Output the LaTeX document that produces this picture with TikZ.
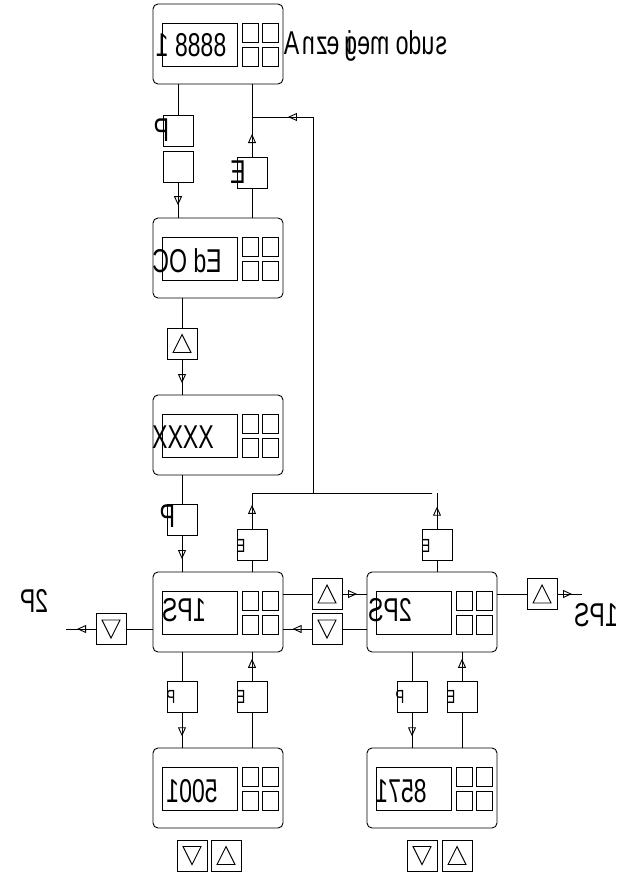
\documentclass[tikz,border=0pt]{standalone}
\usepackage{graphicx}
\usepackage{fontspec}
\setmainfont{Liberation Sans}
\usetikzlibrary{arrows.meta,decorations.markings}
% one glyph, mirrored on its own origin
\newcommand{\mglyph}[1]{\setbox0\hbox{#1}\hbox to \wd0{\llap{\reflectbox{#1}}\hss}}
\tikzset{
  device/.style={draw, rounded corners=5pt, minimum width=130pt, minimum height=80pt, inner sep=0pt, outer sep=0pt},
  keybox/.style={draw, minimum width=30pt, minimum height=31pt, inner sep=0pt, outer sep=0pt},
  keyup/.style={keybox, path picture={\draw (path picture bounding box.center) ++(0,-9) -- ++(9,18) -- ++(-18,0) -- cycle;}},
  keydown/.style={keybox, path picture={\draw (path picture bounding box.center) ++(0,9) -- ++(9,-18) -- ++(-18,0) -- cycle;}},
  bigtxt/.style={font=\fontsize{33}{36}\selectfont, inner sep=0pt, anchor=base},
  smalltxt/.style={font=\fontsize{19}{22}\selectfont, inner sep=0pt, anchor=base},
  midarrow/.style={decoration={markings, mark=at position #1 with {\arrow{Triangle[open,length=9pt,width=8pt]}}}, postaction={decorate}}
}
\begin{document}
\begin{tikzpicture}[x=1pt, y=-1pt, line width=0.9pt]
\useasboundingbox (0,0) rectangle (624,872);
% devices
\foreach \n/\x/\y in {dA/153/4, dB/153/218, dC/153/395, dD/153/572, dE/367/572, dF/153/748, dG/367/748}{
  \node[device] (\n) at (\x+65,\y+40) {};
  \draw ([shift={(9,19)}]\n.north west) rectangle ++(75,43);
  \draw ([shift={(89,19)}]\n.north west) rectangle ++(16,19);
  \draw ([shift={(109,19)}]\n.north west) rectangle ++(16,19);
  \draw ([shift={(89,43)}]\n.north west) rectangle ++(16,19);
  \draw ([shift={(109,43)}]\n.north west) rectangle ++(16,19);
}
\node[bigtxt] (tA) at (191,57) {\scalebox{-0.7}[1]{8888 1}};
\node[bigtxt, anchor=base west] (tmode) at (299,55) {\scalebox{0.7}[1]{\mglyph{A}\mglyph{n}\mglyph{z}\mglyph{e}\mglyph{i}\mglyph{g}\mglyph{e} \mglyph{m}\mglyph{o}\mglyph{d}\mglyph{u}\mglyph{s}}};
\node[bigtxt] (tB) at (187,272) {\scalebox{-0.7}[1]{Ed OC}};
\node[bigtxt] (tC) at (183,448) {\scalebox{-0.7}[1]{XXXX}};
\node[bigtxt] (tD) at (184,621) {\scalebox{-0.7}[1]{1PS}};
\node[bigtxt] (tE) at (390,621) {\scalebox{-0.7}[1]{2PS}};
\node[bigtxt] (tF) at (192,802) {\scalebox{-0.7}[1]{5001}};
\node[bigtxt] (tG) at (401,802) {\scalebox{-0.7}[1]{8571}};
\node[bigtxt] (tL) at (34,612) {\scalebox{-0.7}[1]{2P}};
\node[bigtxt] (tR) at (596,626) {\scalebox{-0.7}[1]{1PS}};

% key boxes
\node[keybox] (pA) at (178,130.5) {};
\node[keybox] (eA) at (178,167) {};
\node[keybox] (EA) at (252,172.5) {};
\node[keyup] (up1) at (182,343.5) {};
\node[keybox] (pC) at (182,519.5) {};
\node[keybox] (EL) at (252,544.5) {};
\node[keybox] (ER) at (437,544.5) {};
\node[keyup] (upM) at (327,594) {};
\node[keydown] (dnM) at (327,629) {};
\node[keydown] (dnL) at (111,629) {};
\node[keyup] (upR) at (542,594) {};
\node[keybox] (pF) at (182,697) {};
\node[keybox] (EF) at (252,697) {};
\node[keybox] (pG) at (412,697) {};
\node[keybox] (EG) at (462,697) {};
\node[keydown] (kF1) at (192,855.5) {};
\node[keyup] (kF2) at (226,855.5) {};
\node[keydown] (kG1) at (422,855.5) {};
\node[keyup] (kG2) at (457,855.5) {};

% key letters
\node[bigtxt] (lpA) at (161.5,142) {\scalebox{-0.7}[1]{P}};
\node[bigtxt] (lEA) at (238,183) {\scalebox{-0.7}[1]{E}};
\node[bigtxt] (lpC) at (167.5,527) {\scalebox{-0.7}[1]{P}};
\node[smalltxt] (lEL) at (241,552) {\scalebox{-0.7}[1]{E}};
\node[smalltxt] (lER) at (426,552) {\scalebox{-0.7}[1]{E}};
\node[smalltxt] (lpF) at (171,703) {\scalebox{-0.7}[1]{P}};
\node[smalltxt] (lEF) at (241,703) {\scalebox{-0.7}[1]{E}};
\node[smalltxt] (lpG) at (400,703) {\scalebox{-0.7}[1]{P}};
\node[smalltxt] (lEG) at (451,703) {\scalebox{-0.7}[1]{E}};

% junctions
\coordinate (jt) at (252,117);
\coordinate (jr) at (313,117);
\coordinate (jb) at (313,493);
\coordinate (jl) at (252,493);
\coordinate (jr2) at (432,493);
\coordinate (lend) at (66,629);
\coordinate (rend) at (582,594);

% top
\draw (dA.south -| pA) -- (pA);
\draw[midarrow=0.64] (eA) -- (dB.north -| eA);
\draw (dB.north -| EA) -- (EA);
\draw[midarrow=0.575] (EA) -- (jt);
\draw (jt) -- (dA.south -| jt);
\draw[midarrow=0.41] (jr) -- (jt);
\draw (jb) -- (jr);
\draw (jl) -- (jr2);
\draw[midarrow=0.67] (EL) -- (jl);
\draw (dD.north -| EL) -- (EL);
\draw[midarrow=0.62] (ER) -- (ER |- jl);
\draw (dE.north -| ER) -- (ER);

% middle
\draw (dB.south -| up1) -- (up1);
\draw[midarrow=0.67] (up1) -- (dC.north -| up1);
\draw (dC.south -| pC) -- (pC);
\draw[midarrow=0.65] (pC) -- (dD.north -| pC);

% sideways
\draw (dD.east |- upM) -- (upM);
\draw[midarrow=0.6] (upM) -- (dE.west |- upM);
\draw (dE.west |- dnM) -- (dnM);
\draw[midarrow=0.67] (dnM) -- (dD.east |- dnM);
\draw (dD.west |- dnL) -- (dnL);
\draw[midarrow=0.63] (dnL) -- (lend);
\draw (dE.east |- upR) -- (upR);
\draw[midarrow=0.6] (upR) -- (rend);

% bottom
\draw (dD.south -| pF) -- (pF);
\draw[midarrow=0.67] (pF) -- (dF.north -| pF);
\draw (dF.north -| EF) -- (EF);
\draw[midarrow=0.77] (EF) -- (dD.south -| EF);
\draw (dE.south -| pG) -- (pG);
\draw[midarrow=0.67] (pG) -- (dG.north -| pG);
\draw (dG.north -| EG) -- (EG);
\draw[midarrow=0.77] (EG) -- (dE.south -| EG);

\end{tikzpicture}
\end{document}
